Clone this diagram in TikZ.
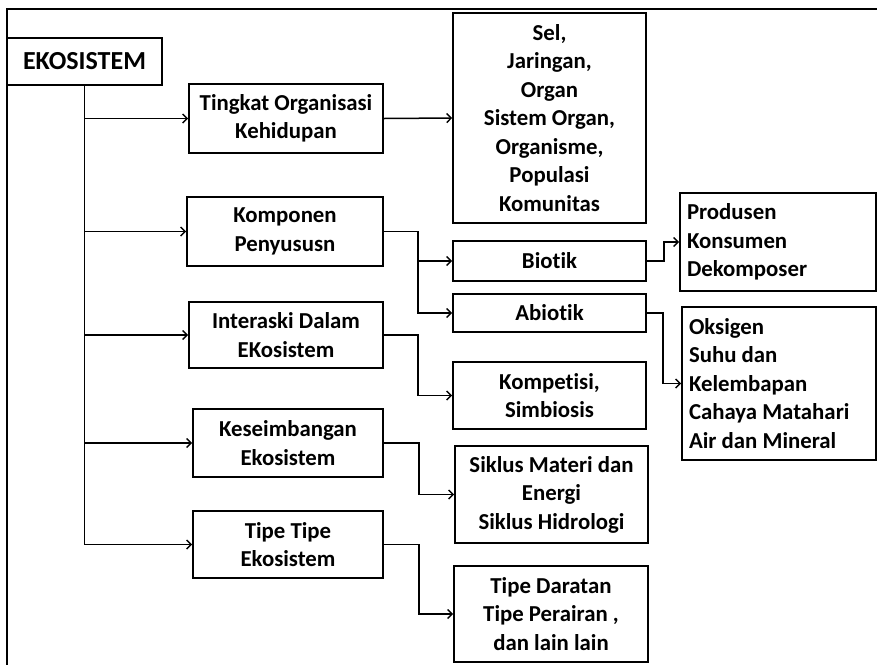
\documentclass[tikz,border=0pt]{standalone}
\usepackage{fontspec}
\setmainfont[Ligatures=NoCommon]{Carlito}
\usetikzlibrary{arrows.meta}
\begin{document}
\begin{tikzpicture}[x=1pt,y=-1pt,
  box/.style={draw, line width=1.6pt, align=center, inner sep=0pt,
    font=\bfseries\fontsize{22.8}{28.5}\selectfont},
  link/.style={line width=1.5pt, -{Straight Barb[length=4.5pt,width=9pt,line width=1.4pt]}},
  plain/.style={line width=1.5pt}]
\useasboundingbox (0,0) rectangle (877,665);
% outer frame (top and left edges)
\draw[line width=1.5pt] (877,9) -- (7,9) -- (7,665);

% root
\node[box, minimum width=155pt, minimum height=47pt,
  font=\bfseries\fontsize{26}{30}\selectfont] (eko) at (84.5,61.5) {EKOSISTEM};

% first level
\node[box, minimum width=194pt, minimum height=69pt] (tingkat) at (286,118.5) {Tingkat Organisasi\\Kehidupan};
\node[box, minimum width=196pt, minimum height=69pt] (komp) at (285,231.5) {Komponen\\Penyususn};
\node[box, minimum width=194pt, minimum height=66pt] (inter) at (286,335) {Interaski  Dalam\\EKosistem};
\node[box, minimum width=190pt, minimum height=68pt] (kese) at (288,443) {Keseimbangan\\Ekosistem};
\node[box, minimum width=190pt, minimum height=67pt] (tipe) at (288,544.5) {Tipe Tipe\\Ekosistem};

% second level
\node[box, minimum width=193pt, minimum height=210pt] (sel) at (549.5,118) {Sel,\\Jaringan,\\Organ\\Sistem Organ,\\Organisme,\\Populasi\\Komunitas};
\node[box, minimum width=193pt, minimum height=40pt] (biotik) at (549.5,261) {Biotik};
\node[box, minimum width=193pt, minimum height=38pt] (abiotik) at (549.5,313) {Abiotik};
\node[box, minimum width=193pt, minimum height=67pt] (kompet) at (549.5,395.5) {Kompetisi,\\Simbiosis};
\node[box, minimum width=193pt, minimum height=97pt] (siklus) at (551.5,494.5) {Siklus Materi dan\\Energi\\Siklus Hidrologi};
\node[box, minimum width=194pt, minimum height=96pt] (darat) at (551,614) {Tipe Daratan\\Tipe Perairan ,\\dan  lain lain};

% third level
\node[box, minimum width=196pt, minimum height=98pt, align=flush left,
  text width=182pt] (prod) at (778,242) {Produsen\\Konsumen\\Dekomposer};
\node[box, minimum width=194pt, minimum height=153pt, align=flush left,
  text width=180pt] (oks) at (779,383.5) {Oksigen\\Suhu dan\\Kelembapan\\Cahaya Matahari\\Air dan Mineral};

% trunk from the root
\draw[plain] (eko.south) -- (eko.south |- tipe.west);
\foreach \n in {tingkat,komp,inter,kese,tipe}
  \draw[link] (eko.south |- \n.west) -- (\n.west);

% first level to second level
\draw[link] (tingkat.east) -- (sel.west);
\draw[link] (komp.east) -- ++(34,0) |- (biotik.west);
\draw[link] (komp.east) -- ++(34,0) |- (abiotik.west);
\draw[link] (inter.east) -- ++(34,0) |- (kompet.west);
\draw[link] (kese.east) -- ++(35,0) |- (siklus.west);
\draw[link] (tipe.east) -- ++(35,0) |- (darat.west);

% second level to third level
\draw[link] (biotik.east) -- ++(17,0) |- (prod.west);
\draw[link] (abiotik.east) -- ++(16,0) |- (oks.west);
\end{tikzpicture}
\end{document}
